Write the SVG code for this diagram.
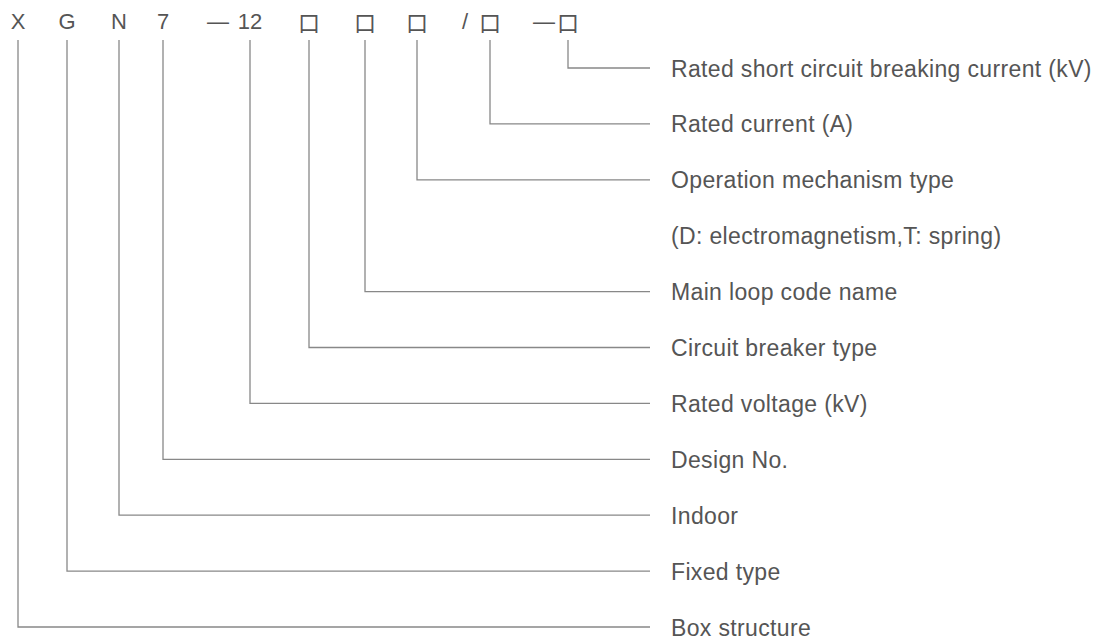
<svg xmlns="http://www.w3.org/2000/svg" width="1098" height="639" viewBox="0 0 1098 639">
<style>
.code{font-family:"Liberation Sans","Noto Sans CJK SC",sans-serif;font-size:22px;fill:#555;text-anchor:middle}
.cjk{font-family:"Noto Sans CJK SC",sans-serif;font-size:22px;fill:#555;text-anchor:middle}
.lbl{font-family:"Liberation Sans",Arial,sans-serif;font-size:23px;letter-spacing:0.35px;fill:#555}
.ln{fill:none;stroke:#888;stroke-width:1.3}
</style>
<rect width="1098" height="639" fill="#fff"/>
<g id="code">
<text class="code" x="18" y="28.5">X</text>
<text class="code" x="67" y="28.5">G</text>
<text class="code" x="119" y="28.5">N</text>
<text class="code" x="163" y="28.5">7</text>
<text class="code" x="218" y="28.5">—</text>
<text class="code" x="250" y="28.5">12</text>
<text class="cjk" x="309" y="30.5">口</text>
<text class="cjk" x="365" y="30.5">口</text>
<text class="cjk" x="417" y="30.5">口</text>
<text class="code" x="465" y="28.5">/</text>
<text class="cjk" x="490" y="30.5">口</text>
<text class="code" x="544" y="28.5">—</text>
<text class="cjk" x="568" y="30.5">口</text>
</g>
<g id="connectors">
<polyline class="ln" points="568,40 568,68 650,68"/>
<polyline class="ln" points="490,40 490,123.9 650,123.9"/>
<polyline class="ln" points="417,40 417,179.8 650,179.8"/>
<polyline class="ln" points="365,40 365,291.6 650,291.6"/>
<polyline class="ln" points="309,40 309,347.5 650,347.5"/>
<polyline class="ln" points="250,40 250,403.4 650,403.4"/>
<polyline class="ln" points="163,40 163,459.3 650,459.3"/>
<polyline class="ln" points="119,40 119,515.2 650,515.2"/>
<polyline class="ln" points="67,40 67,571.1 650,571.1"/>
<polyline class="ln" points="18,40 18,627 650,627"/>
</g>
<g id="labels">
<text id="l1" class="lbl" x="671" y="76.5">Rated short circuit breaking current (kV)</text>
<text id="l2" class="lbl" x="671" y="132.4">Rated current (A)</text>
<text id="l3" class="lbl" x="671" y="188.3">Operation mechanism type</text>
<text id="l4" class="lbl" x="671" y="244.2">(D: electromagnetism,T: spring)</text>
<text id="l5" class="lbl" x="671" y="300.1">Main loop code name</text>
<text id="l6" class="lbl" x="671" y="356">Circuit breaker type</text>
<text id="l7" class="lbl" x="671" y="411.9">Rated voltage (kV)</text>
<text id="l8" class="lbl" x="671" y="467.8">Design No.</text>
<text id="l9" class="lbl" x="671" y="523.7">Indoor</text>
<text id="l10" class="lbl" x="671" y="579.6">Fixed type</text>
<text id="l11" class="lbl" x="671" y="635.5">Box structure</text>
</g>
</svg>
